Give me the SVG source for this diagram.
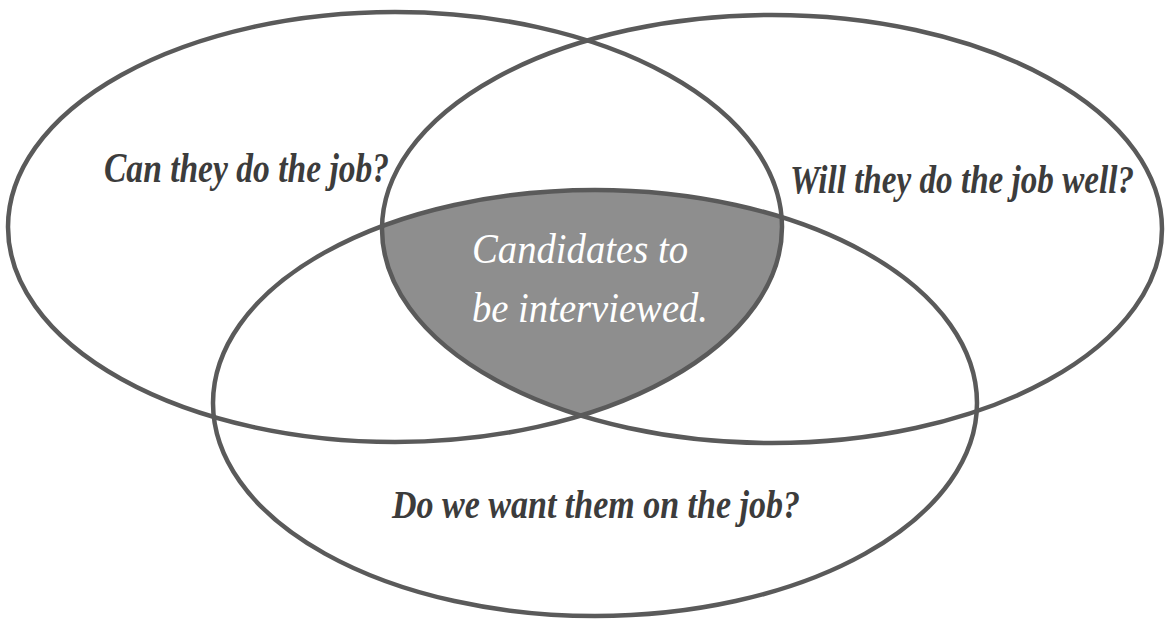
<svg xmlns="http://www.w3.org/2000/svg" width="1170" height="621" viewBox="0 0 1170 621">
  <style>
    .ring { fill: none; stroke: #5a5a5a; stroke-width: 4.5; }
    .label { font-family: "Liberation Serif", "Times New Roman", serif; font-style: italic; font-weight: bold; fill: #3c3c3c; }
    .core { font-family: "Liberation Serif", "Times New Roman", serif; font-style: italic; fill: #ffffff; }
  </style>
  <defs>
    <clipPath id="clipLeft"><ellipse cx="395" cy="227" rx="387" ry="215"/></clipPath>
    <clipPath id="clipRight"><ellipse cx="772" cy="229" rx="390" ry="214"/></clipPath>
  </defs>
  <rect width="1170" height="621" fill="#ffffff"/>

  <!-- shared region of all three sets -->
  <g id="overlap">
    <g clip-path="url(#clipLeft)">
      <g clip-path="url(#clipRight)">
        <ellipse cx="595" cy="403" rx="382" ry="213" fill="#8e8e8e"/>
      </g>
    </g>
  </g>

  <g id="set-can">
    <ellipse class="ring" cx="395" cy="227" rx="387" ry="215"/>
    <text class="label" x="104" y="182" font-size="43" textLength="285" lengthAdjust="spacingAndGlyphs">Can they do the job?</text>
  </g>

  <g id="set-will">
    <ellipse class="ring" cx="772" cy="229" rx="390" ry="214"/>
    <text class="label" x="790" y="193" font-size="40" textLength="344" lengthAdjust="spacingAndGlyphs">Will they do the job well?</text>
  </g>

  <g id="set-want">
    <ellipse class="ring" cx="595" cy="403" rx="382" ry="213"/>
    <text class="label" x="392" y="518" font-size="39" textLength="408" lengthAdjust="spacingAndGlyphs">Do we want them on the job?</text>
  </g>

  <g id="candidates">
    <text class="core" x="472" y="263" font-size="43" textLength="216" lengthAdjust="spacingAndGlyphs">Candidates to</text>
    <text class="core" x="472" y="322" font-size="43" textLength="236" lengthAdjust="spacingAndGlyphs">be interviewed.</text>
  </g>
</svg>
